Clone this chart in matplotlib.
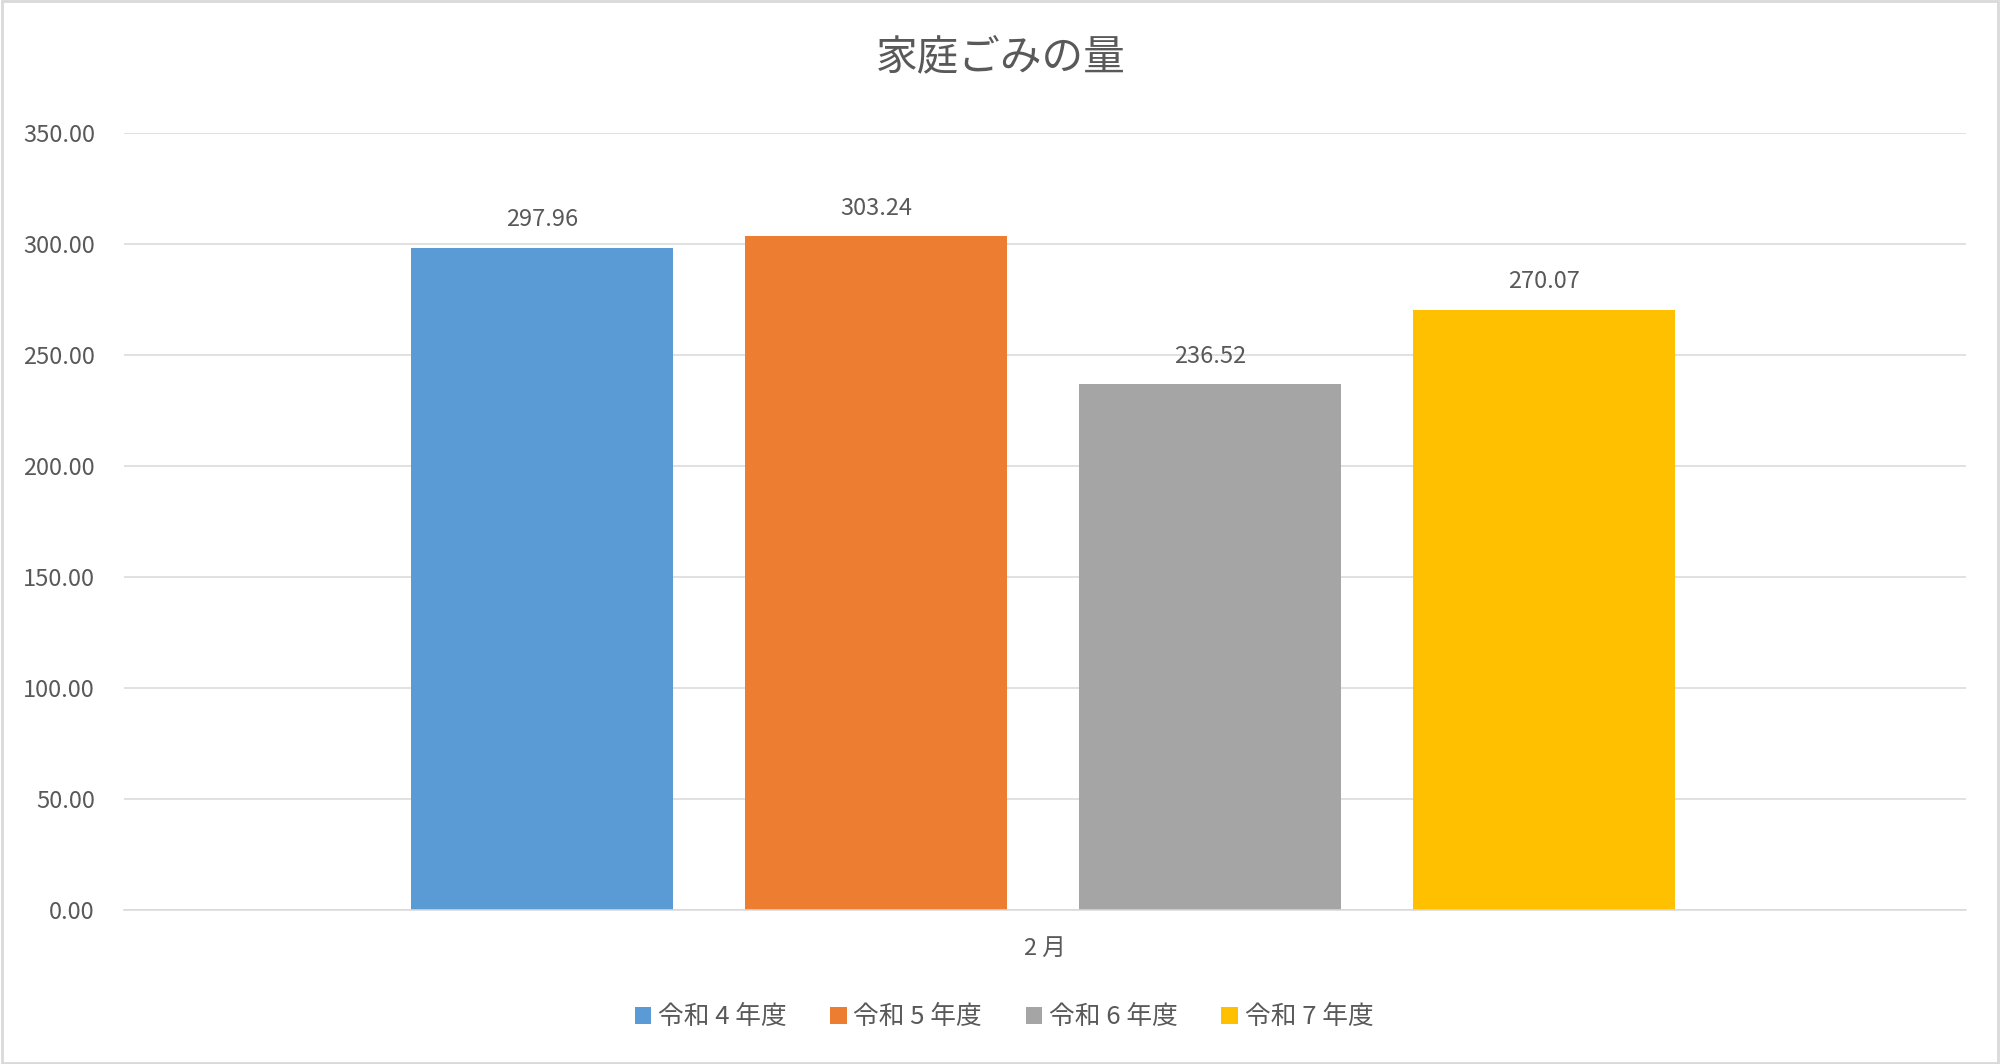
import matplotlib
matplotlib.use("Agg")
import matplotlib.pyplot as plt
import numpy as np
from matplotlib.patches import Rectangle

plt.rcParams['font.family'] = ['Noto Sans CJK JP', 'DejaVu Sans']

# data
series_names = ['令和 4 年度', '令和 5 年度', '令和 6 年度', '令和 7 年度']
values = [297.96, 303.24, 236.52, 270.07]
colors = ['#5B9BD5', '#ED7D31', '#A5A5A5', '#FFC000']
category = '2 月'
y_ticks = [0, 50, 100, 150, 200, 250, 300, 350]

text_color = '#595959'
grid_color = '#D9D9D9'

fig = plt.figure(figsize=(20, 10.64), dpi=100)
ax = fig.add_axes([0.062, 0.1452, 0.921, 0.7302])

step = 0.1813
width = 0.1422
for i, (name, v, c) in enumerate(zip(series_names, values, colors)):
    b = ax.bar((i - 1.5) * step - 0.001, v, width=width, color=c, label=name, zorder=3)
    ax.bar_label(b, labels=[f'{v:.2f}'], padding=12, fontsize=17, color=text_color)

ax.set_xlim(-0.5, 0.5)
ax.set_ylim(0, 350)
ax.set_yticks(y_ticks)
ax.set_yticklabels([f'{t:.2f}' for t in y_ticks])
ax.set_xticks([0])
ax.set_xticklabels([category])
ax.tick_params(axis='y', length=0, pad=21, labelsize=17, labelcolor=text_color)
ax.tick_params(axis='x', length=0, pad=20, labelsize=17, labelcolor=text_color)

ax.grid(axis='y', color=grid_color, linewidth=1.1, zorder=0)
for s in ['top', 'right', 'left']:
    ax.spines[s].set_visible(False)
ax.spines['bottom'].set_color(grid_color)
ax.spines['bottom'].set_linewidth(1.1)
ax.spines['bottom'].set_zorder(4)

fig.text(0.5005, 0.9455, '家庭ごみの量', ha='center', va='center',
         fontsize=30, color=text_color)

fig.legend(loc='center', bbox_to_anchor=(0.502, 0.044), ncol=4, frameon=False,
           fontsize=18.5, labelcolor=text_color, handlelength=0.65, handleheight=0.65,
           handletextpad=0.25, columnspacing=1.7)

# chart area border
fig.patches.append(Rectangle((0.0008, 0.001), 0.9984, 0.998, transform=fig.transFigure,
                             fill=False, edgecolor=grid_color, linewidth=2))

fig.savefig('out.png', dpi=100, facecolor='white')
